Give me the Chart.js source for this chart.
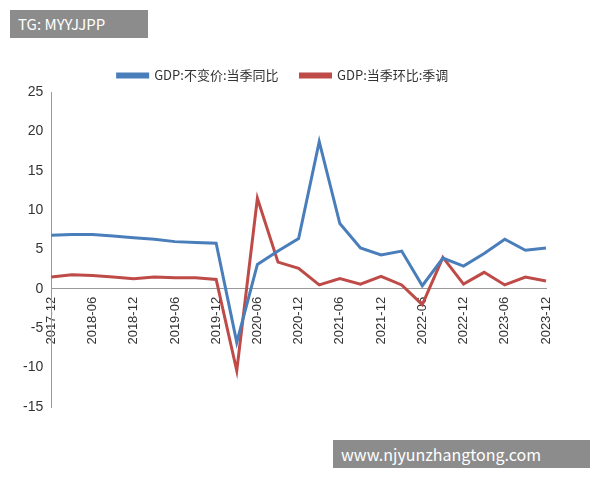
<!DOCTYPE html>
<html><head><meta charset="utf-8">
<script src="https://cdn.jsdelivr.net/npm/chart.js@4"></script>
<style>
body{margin:0;background:#fff;width:600px;height:480px;overflow:hidden;position:relative;font-family:"Noto Sans CJK SC","Noto Sans",sans-serif}
#wrap{position:absolute;left:0;top:0;width:600px;height:480px}
.tag{position:absolute;background:#8c8c8c;color:#fff;font-size:15px;padding:0 8px;line-height:28px}
</style></head><body>
<div id="wrap"><canvas id="c" width="600" height="480"></canvas></div>
<div class="tag" style="left:10px;top:10px;width:122px">TG: MYYJJPP</div>
<div class="tag" style="left:333px;top:440px;width:241px;font-size:16px">www.njyunzhangtong.com</div>
<script>
const categories=["2017-12","2018-03","2018-06","2018-09","2018-12","2019-03","2019-06","2019-09","2019-12","2020-03","2020-06","2020-09","2020-12","2021-03","2021-06","2021-09","2021-12","2022-03","2022-06","2022-09","2022-12","2023-03","2023-06","2023-09","2023-12"];
const yoy=[6.8,6.9,6.9,6.7,6.5,6.3,6.0,5.9,5.8,-6.8,3.1,4.8,6.4,18.7,8.3,5.2,4.3,4.8,0.4,3.9,2.9,4.5,6.3,4.9,5.2];
const qoq=[1.5,1.8,1.7,1.5,1.3,1.5,1.4,1.4,1.2,-10.4,11.5,3.4,2.6,0.5,1.3,0.6,1.6,0.5,-2.0,4.0,0.6,2.1,0.5,1.5,1.0];
const yTicks={min:-15,max:25,step:5};
new Chart(document.getElementById('c'),{type:'line',
data:{labels:categories,datasets:[
{label:'GDP:不变价:当季同比',data:yoy,borderColor:'#4a7ebb',borderWidth:3,pointRadius:0,tension:0},
{label:'GDP:当季环比:季调',data:qoq,borderColor:'#be4b48',borderWidth:3,pointRadius:0,tension:0}]},
options:{responsive:false,animation:false,
layout:{padding:{top:47,left:20,right:54,bottom:73}},
plugins:{legend:{labels:{boxWidth:30,boxHeight:3,padding:22,color:'#333',font:{size:13,family:'"Noto Sans CJK SC"'}}},tooltip:{enabled:false}},
scales:{
x:{offset:false,position:{y:0},grid:{display:false,drawTicks:true,tickLength:5},border:{color:'#999'},
 ticks:{autoSkip:false,minRotation:90,maxRotation:90,color:'#333',font:{size:13},callback:(v,i)=>i%2===0?categories[i]:''}},
y:{min:yTicks.min,max:yTicks.max,grid:{display:false,tickLength:5},border:{color:'#999'},
 ticks:{stepSize:yTicks.step,color:'#333',font:{size:14}}}}}});
</script></body></html>
